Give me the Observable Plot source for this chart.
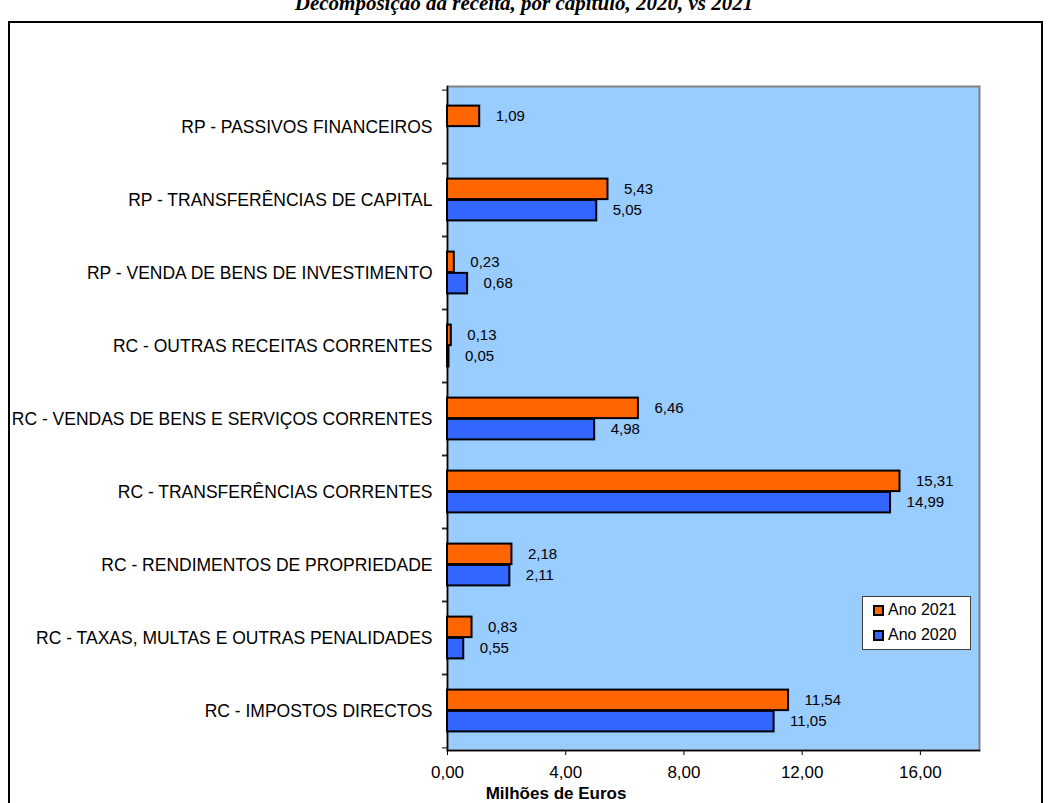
<!DOCTYPE html>
<html>
<head>
<meta charset="utf-8">
<script src="https://cdn.jsdelivr.net/npm/d3@7"></script>
<script src="https://cdn.jsdelivr.net/npm/@observablehq/plot@0.6"></script>
<style>
  html, body { margin: 0; padding: 0; background: white; overflow: hidden; }
  #wrap { position: relative; width: 1048px; height: 803px; overflow: hidden; font-family: "Liberation Sans", Arial, sans-serif; }
  #title { position: absolute; left: 0; top: -7px; width: 1048px; text-align: center; font: italic bold 21px/21px "Liberation Serif", "Times New Roman", serif; color: black; }
  #frame { position: absolute; left: 8px; top: 21px; width: 1031px; height: 800px; border: 2px solid black; pointer-events: none; }
  #chart { position: absolute; left: 0; top: 0; }
  #xlabel { position: absolute; left: 456px; top: 784px; width: 200px; text-align: center; font: bold 17px/20px "Liberation Sans", Arial, sans-serif; }
  #legend { position: absolute; left: 862px; top: 596px; width: 107px; height: 52px; background: white; border: 1px solid #404040; font: 16px/16px "Liberation Sans", Arial, sans-serif; }
  .item { position: absolute; left: 10px; height: 16px; display: flex; align-items: center; }
  .sw { width: 7px; height: 7px; border: 2px solid black; margin-right: 4px; }
</style>
</head>
<body>
<div id="wrap">
  <div id="chart"></div>
  <div id="title">Decomposição da receita, por capítulo, 2020, vs 2021</div>
  <div id="xlabel">Milhões de Euros</div>
  <div id="legend"></div>
  <div id="frame"></div>
</div>
<script>
const categories = [
  "RP - PASSIVOS FINANCEIROS",
  "RP - TRANSFERÊNCIAS DE CAPITAL",
  "RP - VENDA DE BENS DE INVESTIMENTO",
  "RC - OUTRAS RECEITAS CORRENTES",
  "RC - VENDAS DE BENS E SERVIÇOS CORRENTES",
  "RC - TRANSFERÊNCIAS CORRENTES",
  "RC - RENDIMENTOS DE PROPRIEDADE",
  "RC - TAXAS, MULTAS E OUTRAS PENALIDADES",
  "RC - IMPOSTOS DIRECTOS"
];
const values2021 = [1.09, 5.43, 0.23, 0.13, 6.46, 15.31, 2.18, 0.83, 11.54];
const values2020 = [null, 5.05, 0.68, 0.05, 4.98, 14.99, 2.11, 0.55, 11.05];
const seriesNames = ["Ano 2021", "Ano 2020"];
const seriesColors = ["#FF6600", "#3366FF"];
const xTicks = [0, 4, 8, 12, 16];
const xMax = 18;

const fmt = d => d.toFixed(2).replace(".", ",");

const rows2021 = categories.map((c, i) => ({category: c, value: values2021[i]})).filter(d => d.value != null);
const rows2020 = categories.map((c, i) => ({category: c, value: values2020[i]})).filter(d => d.value != null);

const W = 1048, H = 803;
const mL = 447, mR = 69, mT = 86, mB = 53;
const band = (H - mT - mB) / categories.length;
const outerInset = 15.6;
const half = band / 2;
const labelOffset = (half - outerInset) / 2;

const font = '"Liberation Sans", Arial, sans-serif';

const chart = Plot.plot({
  width: W,
  height: H,
  marginLeft: mL,
  marginRight: mR,
  marginTop: mT,
  marginBottom: mB,
  style: {background: "transparent", fontFamily: font, color: "black"},
  x: {domain: [0, xMax]},
  y: {domain: categories, padding: 0},
  marks: [
    Plot.frame({fill: "#99CCFF", stroke: "#808080", strokeWidth: 2}),
    Plot.frame({anchor: "left", stroke: "black", strokeWidth: 1.5}),
    Plot.frame({anchor: "bottom", stroke: "black", strokeWidth: 1.5}),
    Plot.barX(rows2021, {x: "value", y: "category", fill: seriesColors[0], stroke: "black", strokeWidth: 2,
      insetTop: outerInset, insetBottom: half}),
    Plot.barX(rows2020, {x: "value", y: "category", fill: seriesColors[1], stroke: "black", strokeWidth: 2,
      insetTop: half, insetBottom: outerInset}),
    Plot.text(rows2021, {x: "value", y: "category", text: d => fmt(d.value), dx: 16, dy: -labelOffset,
      textAnchor: "start", fontSize: 15, fill: "black"}),
    Plot.text(rows2020, {x: "value", y: "category", text: d => fmt(d.value), dx: 16, dy: labelOffset,
      textAnchor: "start", fontSize: 15, fill: "black"}),
    Plot.axisX({ticks: xTicks, tickFormat: fmt, tickSize: 5, tickPadding: 10, fontSize: 17, label: null}),
    Plot.axisY({tickSize: 0, tickPadding: 15, fontSize: 17.5, label: null}),
    Plot.axisY({tickSize: 5, text: null, dy: -half, label: null}),
    Plot.axisY({tickSize: 5, text: null, dy: half, label: null})
  ]
});
document.getElementById("chart").appendChild(chart);

const legend = document.getElementById("legend");
seriesNames.forEach((name, i) => {
  const item = document.createElement("div");
  item.className = "item";
  item.style.top = (5 + i * 25) + "px";
  const sw = document.createElement("span");
  sw.className = "sw";
  sw.style.background = seriesColors[i];
  item.appendChild(sw);
  item.appendChild(document.createTextNode(name));
  legend.appendChild(item);
});
</script>
</body>
</html>
